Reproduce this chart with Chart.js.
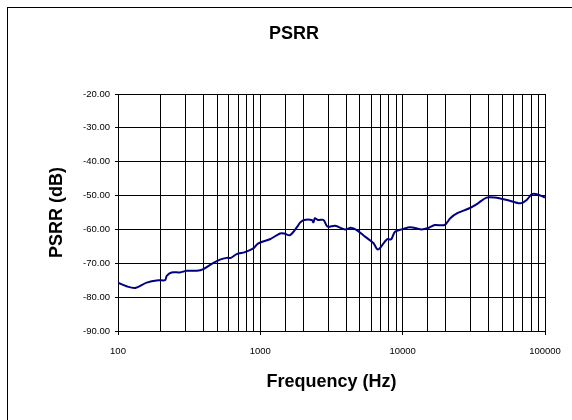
<!DOCTYPE html>
<html>
<head>
<meta charset="utf-8">
<title>PSRR</title>
<script src="https://cdn.jsdelivr.net/npm/chart.js@4.4.1/dist/chart.umd.min.js"></script>
<style>
    html, body { margin: 0; padding: 0; background: #fff; overflow: hidden; }
    #wrap { position: relative; width: 572px; height: 420px; overflow: hidden; }
    #frame { position: absolute; left: 7px; top: 7px; width: 620px; height: 460px; border: 1px solid #000; }
    #psrrChart { position: absolute; left: 0; top: 0; }
</style>
</head>
<body>
<div id="wrap">
    <div id="frame"></div>
    <canvas id="psrrChart" width="572" height="420"></canvas>
</div>
<script>
// Values
const freqHz = [100, 115, 132, 159, 192, 214, 220, 238, 272, 304, 358, 398, 468, 521, 580, 620, 682, 780, 893, 968,
    1166, 1377, 1470, 1617, 1818, 1900, 2030, 2295, 2360, 2417, 2537, 2780, 2968, 3350, 3937, 4330, 4760, 5470,
    6220, 6650, 6960, 7760, 8310, 8830, 10000, 10900, 11700, 13500, 15300, 16800, 19700, 21600, 24200, 28900,
    33000, 38800, 44400, 55000, 67000, 74400, 80800, 87600, 100000];
const psrrDb = [-75.7, -76.8, -77.3, -75.7, -75.0, -75.0, -73.7, -72.7, -72.7, -72.2, -72.2, -71.7, -69.9, -68.9,
    -68.4, -68.4, -67.3, -66.7, -65.6, -64.1, -62.9, -61.2, -61.2, -61.7, -59.2, -58.0, -57.2, -57.2, -57.9,
    -56.7, -57.2, -57.2, -59.2, -58.9, -60.0, -59.5, -60.2, -62.2, -64.0, -65.9, -65.4, -62.9, -62.9, -60.7,
    -59.9, -59.4, -59.4, -60.0, -59.5, -58.7, -58.7, -56.7, -55.2, -53.9, -52.6, -50.6, -50.6, -51.4, -52.3,
    -51.3, -49.6, -49.6, -50.6];

const xMin = 100, xMax = 100000;
const yMin = -90, yMax = -20, yStep = 10;

const fontFamily = '"Liberation Sans", Arial, sans-serif';

function isDecade(v) {
    const l = Math.log10(v);
    return Math.abs(l - Math.round(l)) < 1e-9;
}

// chart title drawn at its own spot (Excel centres it on the frame, not the canvas)
const titlePlugin = {
    id: 'frameTitle',
    afterDraw(chart) {
        const ctx = chart.ctx;
        ctx.save();
        ctx.font = 'bold 18px ' + fontFamily;
        ctx.fillStyle = '#000';
        ctx.textAlign = 'center';
        ctx.textBaseline = 'middle';
        ctx.fillText('PSRR', 294, 34);
        ctx.restore();
    }
};

const points = freqHz.map((f, i) => ({ x: f, y: psrrDb[i] }));

new Chart(document.getElementById('psrrChart').getContext('2d'), {
    type: 'line',
    data: {
        datasets: [{
            label: 'PSRR',
            data: points,
            borderColor: '#000080',
            borderWidth: 2,
            pointRadius: 0,
            tension: 0.3,
            fill: false
        }]
    },
    options: {
        responsive: false,
        animation: false,
        devicePixelRatio: 1,
        layout: {
            padding: { top: 94, right: 27, left: 0, bottom: 0 }
        },
        plugins: {
            legend: { display: false },
            tooltip: { enabled: false }
        },
        scales: {
            x: {
                type: 'logarithmic',
                min: xMin,
                max: xMax,
                afterFit(scale) { scale.height = 89; },
                border: { color: '#000', width: 1 },
                grid: {
                    color: '#000',
                    lineWidth: 1,
                    tickLength: 4,
                    tickColor: (c) => (c.tick && isDecade(c.tick.value)) ? '#000' : 'rgba(0,0,0,0)'
                },
                ticks: {
                    autoSkip: false,
                    maxRotation: 0,
                    padding: 11,
                    color: '#000',
                    font: { family: fontFamily, size: 9.5 },
                    callback: (v) => isDecade(v) ? String(v) : ''
                },
                title: {
                    display: true,
                    text: 'Frequency (Hz)',
                    color: '#000',
                    font: { family: fontFamily, size: 18, weight: 'bold' },
                    padding: { top: 0, bottom: 27 }
                }
            },
            y: {
                min: yMin,
                max: yMax,
                afterFit(scale) { scale.width = 118; },
                border: { color: '#000', width: 1 },
                grid: {
                    color: '#000',
                    lineWidth: 1,
                    tickLength: 3,
                    tickColor: '#000'
                },
                ticks: {
                    stepSize: yStep,
                    padding: 5,
                    color: '#000',
                    font: { family: fontFamily, size: 9.5 },
                    callback: (v) => v.toFixed(2)
                },
                title: {
                    display: true,
                    text: 'PSRR (dB)',
                    color: '#000',
                    font: { family: fontFamily, size: 18, weight: 'bold' },
                    padding: { top: 46, bottom: 0 }
                }
            }
        }
    },
    plugins: [titlePlugin]
});
</script>
</body>
</html>
